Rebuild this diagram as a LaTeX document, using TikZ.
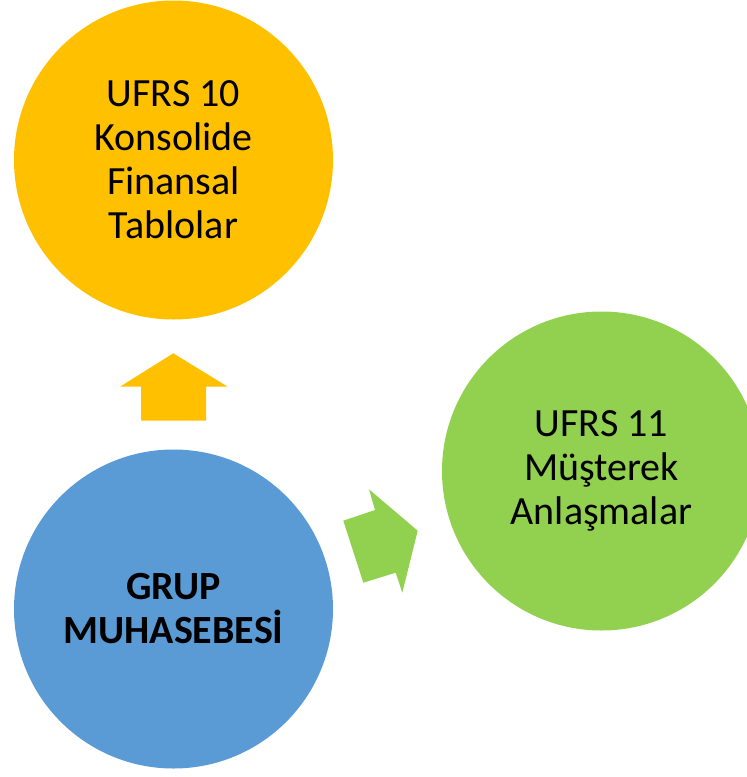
\documentclass[tikz,border=0pt]{standalone}
\usepackage{fontspec}
\setmainfont{Carlito}
\definecolor{cOrange}{HTML}{FFC000}
\definecolor{cBlue}{HTML}{5B9BD5}
\definecolor{cGreen}{HTML}{92D050}
\tikzset{
  bubble/.style={circle, minimum size=319pt, inner sep=0pt, align=center,
    font=\fontsize{40}{44}\selectfont, text=black},
}
\begin{document}
\begin{tikzpicture}[x=1pt,y=-1pt]
\useasboundingbox (0,0) rectangle (747,777);
\clip (0,0) rectangle (747,777);
\node[bubble, fill=cOrange] (ufrs10) at (173.5,160) {UFRS 10\\Konsolide\\Finansal\\Tablolar};
\node[bubble, fill=cGreen] (ufrs11) at (601.5,471) {UFRS 11\\Müşterek\\Anlaşmalar};
\node[bubble, fill=cBlue, font=\fontsize{40}{44}\selectfont\bfseries] (grup) at (173.5,609) {GRUP\\MUHASEBESİ};
\fill[cOrange] (173.3,353.3) -- (227.7,386.7) -- (206,386.7) -- (206,420.7)
  -- (141,420.7) -- (141,386.7) -- (120,386.7) -- cycle;
\fill[cGreen] (343.3,520.7) -- (375,510) -- (369,489.3) -- (417.7,530.7)
  -- (402.3,592.7) -- (395.7,572.7) -- (363.3,582.7) -- cycle;
\end{tikzpicture}
\end{document}
